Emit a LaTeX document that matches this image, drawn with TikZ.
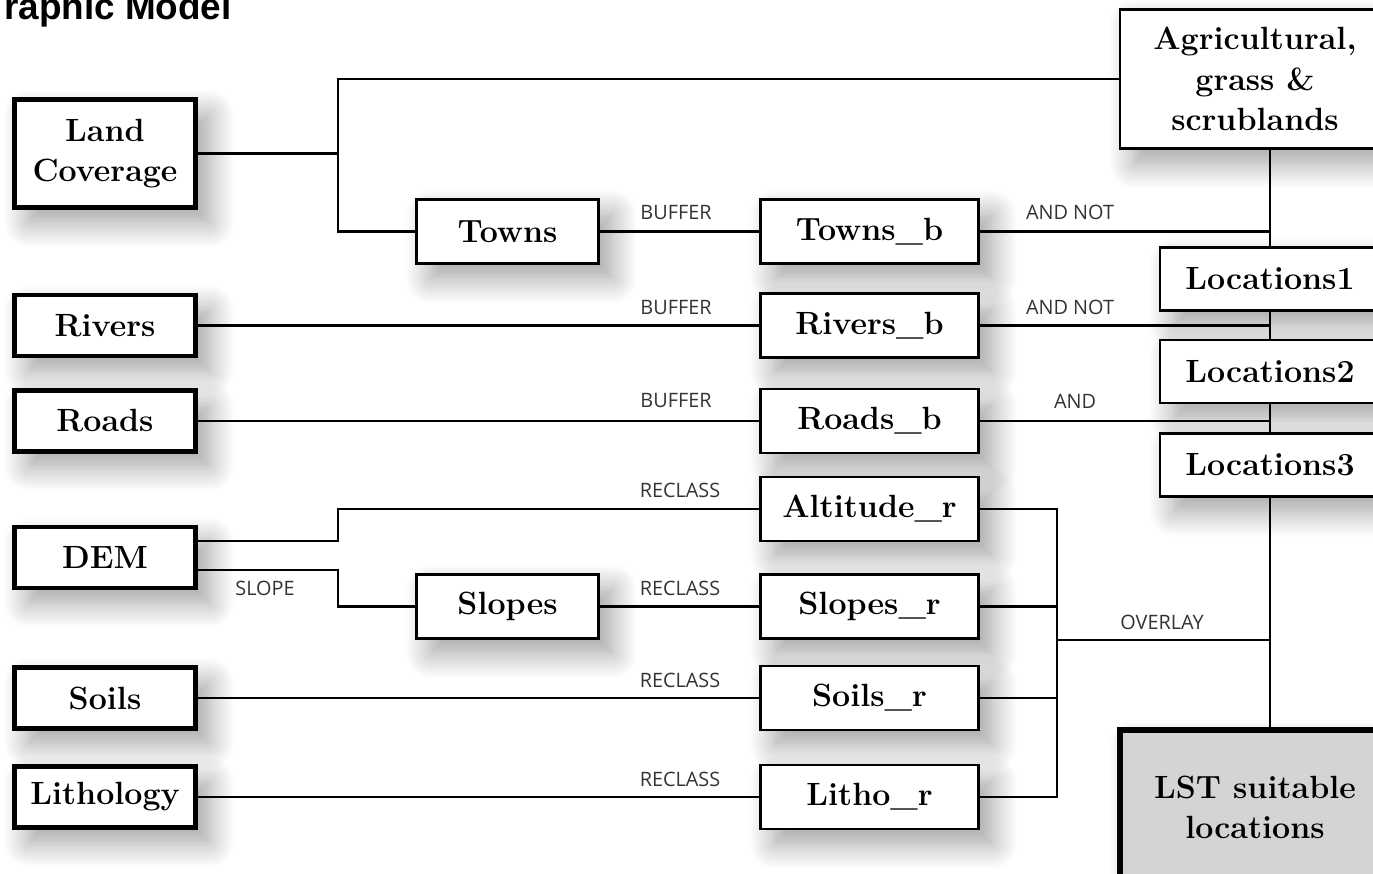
\documentclass[tikz,border=0pt]{standalone}
\usepackage{fontspec}
\newfontfamily\lblfont{Open Sans}
\newfontfamily\headfont{Liberation Sans}
\usetikzlibrary{shadows.blur}
\pgfdeclarelayer{edgelayer}
\pgfdeclarelayer{nodelayer}
\pgfsetlayers{nodelayer,main,edgelayer}

\tikzset{
	box/.style={draw, line width=1.6pt, fill=white, align=center, inner sep=0pt,
		font=\fontsize{18.3}{23}\selectfont\bfseries,
		blur shadow={shadow xshift=0.28cm, shadow yshift=-0.3cm, shadow blur radius=0.5cm,
			shadow blur steps=14, shadow opacity=38}},
	srcbox/.style={box, line width=2.6pt},
	outbox/.style={box, line width=3.4pt, fill=black!17},
	lbl/.style={font=\lblfont\fontsize{11.3}{13}\selectfont, text=black!80},
	wire/.style={line width=1.4pt}
}

\begin{document}
\begin{tikzpicture}[x=0.02cm, y=-0.02cm]
	\useasboundingbox (0,0) rectangle (1373,873);
	\begin{pgfonlayer}{nodelayer}
		\node [anchor=base west, font=\headfont\bfseries\fontsize{21}{24}\selectfont] (title) at (-2,19) {raphic Model};
		% inputs
		\node [srcbox, minimum width=3.62cm, minimum height=2.16cm] (land) at (105,153.5) {Land\\Coverage};
		\node [srcbox, minimum width=3.62cm, minimum height=1.22cm] (rivers) at (105,325.5) {Rivers};
		\node [srcbox, minimum width=3.62cm, minimum height=1.22cm] (roads) at (105,421) {Roads};
		\node [srcbox, minimum width=3.62cm, minimum height=1.22cm] (dem) at (105,557.5) {DEM};
		\node [srcbox, minimum width=3.62cm, minimum height=1.22cm] (soils) at (105,698) {Soils};
		\node [srcbox, minimum width=3.62cm, minimum height=1.22cm] (litho) at (105,797) {Lithology};
		% intermediate
		\node [box, minimum width=3.64cm, minimum height=1.28cm] (towns) at (507.5,231.5) {Towns};
		\node [box, minimum width=3.64cm, minimum height=1.28cm] (slopes) at (507.5,606.5) {Slopes};
		\node [box, minimum width=4.36cm, minimum height=1.28cm] (townsb) at (869.5,231.5) {Towns\_b};
		\node [box, minimum width=4.36cm, minimum height=1.28cm] (riversb) at (869.5,325.5) {Rivers\_b};
		\node [box, minimum width=4.36cm, minimum height=1.28cm] (roadsb) at (869.5,421) {Roads\_b};
		\node [box, minimum width=4.36cm, minimum height=1.28cm] (altr) at (869.5,509) {Altitude\_r};
		\node [box, minimum width=4.36cm, minimum height=1.28cm] (slopesr) at (869.5,606.5) {Slopes\_r};
		\node [box, minimum width=4.36cm, minimum height=1.28cm] (soilsr) at (869.5,698) {Soils\_r};
		\node [box, minimum width=4.36cm, minimum height=1.28cm] (lithor) at (869.5,797) {Litho\_r};
		% right column
		\node [box, minimum width=5.4cm, minimum height=2.78cm] (agri) at (1255,79) {Agricultural,\\grass \&\\scrublands};
		\node [box, minimum width=4.4cm, minimum height=1.26cm] (loc1) at (1270,279) {Locations1};
		\node [box, minimum width=4.4cm, minimum height=1.26cm] (loc2) at (1270,371.5) {Locations2};
		\node [box, minimum width=4.4cm, minimum height=1.26cm] (loc3) at (1270,465) {Locations3};
		\node [outbox, minimum width=5.4cm, minimum height=3.1cm] (lst) at (1255,807.5) {LST suitable\\locations};
		% operations
		\node [lbl] (buf1) at (676,213) {BUFFER};
		\node [lbl] (buf2) at (676,308) {BUFFER};
		\node [lbl] (buf3) at (676,401) {BUFFER};
		\node [lbl] (not1) at (1070,212) {AND NOT};
		\node [lbl] (not2) at (1070,307) {AND NOT};
		\node [lbl] (and1) at (1075,401) {AND};
		\node [lbl] (rcl1) at (680,490) {RECLASS};
		\node [lbl] (rcl2) at (680,588) {RECLASS};
		\node [lbl] (rcl3) at (680,680) {RECLASS};
		\node [lbl] (rcl4) at (680,779) {RECLASS};
		\node [lbl] (slp) at (265,588) {SLOPE};
		\node [lbl] (ovr) at (1162,622) {OVERLAY};
	\end{pgfonlayer}
	\begin{pgfonlayer}{edgelayer}
		\coordinate (lcbus) at (338,153.5);
		\coordinate (demhi) at (198,541);
		\coordinate (demlo) at (198,570);
		\coordinate (ovl) at (1057,640);
		\draw [wire] (land.east) -- (lcbus);
		\draw [wire] (agri.west) -| (lcbus) |- (towns.west);
		\draw [wire] (towns) -- (townsb);
		\draw [wire] (rivers) -- (riversb);
		\draw [wire] (roads) -- (roadsb);
		\draw [wire] (demhi) -- (338,541) |- (altr.west);
		\draw [wire] (demlo) -- (338,570) |- (slopes.west);
		\draw [wire] (slopes) -- (slopesr);
		\draw [wire] (soils) -- (soilsr);
		\draw [wire] (litho) -- (lithor);
		\draw [wire] (townsb.east) -- (townsb.east -| loc1.north);
		\draw [wire] (riversb.east) -- (riversb.east -| loc1.south);
		\draw [wire] (roadsb.east) -- (roadsb.east -| loc2.south);
		\draw [wire] (agri.south -| loc1.north) -- (loc1.north);
		\draw [wire] (loc1.south) -- (loc2.north);
		\draw [wire] (loc2.south) -- (loc3.north);
		\draw [wire] (loc3.south) -- (lst.north -| loc3.south);
		\draw [wire] (altr.east) -| (ovl |- lithor.east) -- (lithor.east);
		\draw [wire] (slopesr.east) -- (slopesr.east -| ovl);
		\draw [wire] (soilsr.east) -- (soilsr.east -| ovl);
		\draw [wire] (ovl) -- (ovl -| loc3.south);
	\end{pgfonlayer}
\end{tikzpicture}
\end{document}
